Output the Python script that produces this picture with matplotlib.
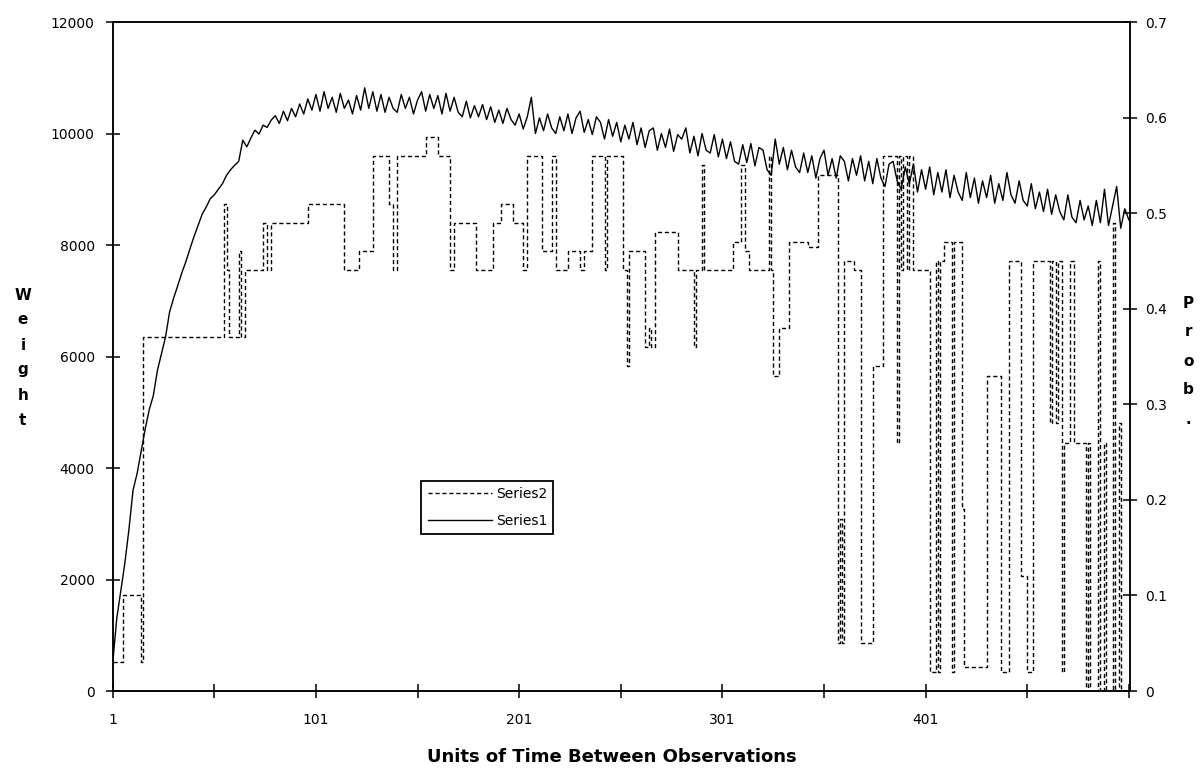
import matplotlib
matplotlib.use("Agg")
import matplotlib.pyplot as plt
import numpy as np

# Series1 (weight), read every 2nd observation: x = 1, 3, 5, ... 501
series1 = [
    500, 1300, 1800, 2300, 2900, 3600, 3900, 4300, 4700, 5050,
    5300, 5750, 6050, 6350, 6800, 7050, 7270, 7500, 7700, 7930,
    8150, 8350, 8550, 8680, 8830, 8900, 9000, 9100, 9250, 9350,
    9430, 9500, 9880, 9760, 9920, 10060, 9990, 10150, 10110, 10240,
    10320, 10180, 10400, 10230, 10450, 10300, 10530, 10350, 10620, 10420,
    10700, 10400, 10750, 10450, 10650, 10380, 10720, 10450, 10600, 10350,
    10680, 10420, 10820, 10450, 10750, 10400, 10700, 10380, 10650, 10450,
    10380, 10700, 10450, 10650, 10350, 10600, 10750, 10400, 10700, 10450,
    10680, 10350, 10720, 10400, 10650, 10380, 10300, 10580, 10280, 10500,
    10300, 10520, 10250, 10480, 10200, 10420, 10180, 10450, 10250, 10150,
    10350, 10080, 10300, 10650, 10000, 10280, 10050, 10350, 10100, 10000,
    10300, 10050, 10350, 10000, 10280, 10400, 10020, 10250, 9980, 10300,
    10200, 9900, 10250, 9950, 10200, 9850, 10150, 9900, 10200, 9800,
    10100, 9750, 10050, 10100, 9700, 10000, 9750, 10080, 9680, 9980,
    9900, 10100, 9650, 9950, 9600, 10000, 9700, 9650, 9980, 9580,
    9900, 9550, 9850, 9500, 9450, 9800, 9480, 9820, 9420, 9750,
    9700, 9350, 9250, 9900, 9450, 9750, 9350, 9700, 9400, 9300,
    9650, 9300, 9600, 9200, 9550, 9700, 9250, 9550, 9200, 9600,
    9500, 9150, 9550, 9250, 9600, 9150, 9500, 9100, 9550, 9200,
    9050, 9450, 9500, 9150, 9000, 9400, 9100, 9450, 8950, 9350,
    9000, 9400, 8900, 9300, 8950, 9350, 8850, 9250, 8950, 8800,
    9300, 8850, 9200, 8750, 9150, 8850, 9250, 8750, 9100, 8800,
    9300, 8900, 8750, 9150, 8800, 8700, 9100, 8650, 8950, 8600,
    9000, 8550, 8900, 8600, 8450, 8900, 8500, 8400, 8800, 8450,
    8700, 8350, 8800, 8400, 9000, 8350, 8700, 9050, 8300, 8650,
    8450,
]
series1_x = np.arange(1, 2 * len(series1), 2)

# Series2 (probability) is a step line: observation where a new level starts, and the level
s2_start = [1, 6, 15, 16, 56, 57, 58, 63, 64, 66, 75, 77, 79, 97, 115, 122, 129, 137, 139, 141,
            155, 161, 167, 169, 180, 188, 192, 198, 203, 205, 212, 217, 219, 225, 231, 233, 237,
            243, 244, 252, 254, 255, 263, 265, 266, 268, 279, 287, 288, 291, 292, 306, 310, 312,
            314, 324, 325, 326, 329, 334, 343, 348, 358, 359, 360, 361, 366, 369, 375, 380, 387,
            388, 389, 390, 392, 393, 395, 403, 406, 407, 408, 410, 414, 415, 419, 420, 431, 438,
            442, 448, 451, 454, 462, 463, 465, 466, 468, 469, 472, 474, 480, 481, 482, 486, 487,
            489, 490, 493, 494, 496, 497]
s2_prob = [0.03, 0.10, 0.03, 0.37, 0.51, 0.44, 0.37, 0.46, 0.37, 0.44, 0.49, 0.44, 0.49, 0.51,
           0.44, 0.46, 0.56, 0.51, 0.44, 0.56, 0.58, 0.56, 0.44, 0.49, 0.44, 0.49, 0.51, 0.49,
           0.44, 0.56, 0.46, 0.56, 0.44, 0.46, 0.44, 0.46, 0.56, 0.44, 0.56, 0.44, 0.34, 0.46,
           0.36, 0.38, 0.36, 0.48, 0.44, 0.36, 0.44, 0.55, 0.44, 0.47, 0.55, 0.46, 0.44, 0.56,
           0.44, 0.33, 0.38, 0.47, 0.465, 0.54, 0.05, 0.18, 0.05, 0.45, 0.44, 0.05, 0.34, 0.56,
           0.26, 0.56, 0.44, 0.56, 0.44, 0.56, 0.44, 0.02, 0.45, 0.02, 0.45, 0.47, 0.02, 0.47,
           0.19, 0.025, 0.33, 0.02, 0.45, 0.12, 0.02, 0.45, 0.28, 0.45, 0.28, 0.45, 0.02, 0.26,
           0.45, 0.26, 0.0, 0.26, 0.0, 0.45, 0.0, 0.26, 0.0, 0.49, 0.0, 0.28, 0.0]
last_obs = 501

x_ticks = list(range(1, 502, 50))
x_labels = [str(t) if (t - 1) % 100 == 0 and t < 500 else "" for t in x_ticks]
w_ticks = list(range(0, 12001, 2000))
p_ticks = [0, 0.1, 0.2, 0.3, 0.4, 0.5, 0.6, 0.7]
p_labels = ["0", "0.1", "0.2", "0.3", "0.4", "0.5", "0.6", "0.7"]

fig = plt.figure(figsize=(12.04, 7.72), dpi=100)
ax = fig.add_axes([0.0936, 0.1049, 0.845, 0.8666])
ax2 = ax.twinx()

line1, = ax.plot(series1_x, series1, color="black", lw=1.0, label="Series1")
step_x = s2_start + [last_obs]
step_y = s2_prob + [s2_prob[-1]]
line2, = ax2.step(step_x, step_y, where="post", color="black", lw=1.0,
                  linestyle=(0, (3, 2)), label="Series2")

ax.set_xlim(1, 501.6)
ax.set_ylim(0, 12000)
ax2.set_ylim(0, 0.7)

ax.set_xticks(x_ticks)
ax.set_xticklabels(x_labels, fontsize=10)
ax.set_yticks(w_ticks)
ax.set_yticklabels([str(t) for t in w_ticks], fontsize=10)
ax2.set_yticks(p_ticks)
ax2.set_yticklabels(p_labels, fontsize=10)

ax.tick_params(axis="x", direction="inout", length=10, width=1.1, pad=11)
ax.tick_params(axis="y", direction="inout", length=10, width=1.1, pad=8)
ax2.tick_params(axis="y", direction="inout", length=10, width=1.1, pad=6)
for a in (ax, ax2):
    for s in a.spines.values():
        s.set_linewidth(1.1)
        s.set_color("black")

leg = ax2.legend([line2, line1], ["Series2", "Series1"], loc="upper left",
                 bbox_to_anchor=(0.350, 0.377), bbox_transform=fig.transFigure,
                 borderaxespad=0, fancybox=False, framealpha=1, edgecolor="black",
                 fontsize=10, handlelength=4.6, handletextpad=0.3, labelspacing=0.9,
                 borderpad=0.45)
leg.get_frame().set_linewidth(1.3)

fig.text(0.508, 0.019, "Units of Time Between Observations", ha="center", va="center",
         fontsize=13, fontweight="bold")

# stacked axis titles, one letter per line
for i, ch in enumerate("Weight"):
    fig.text(0.019, 1 - (295 + i * 25) / 772, ch, ha="center", va="center",
             fontsize=11, fontweight="bold")
for i, ch in enumerate("Prob."):
    fig.text(0.987, 1 - (303 + i * 29) / 772, ch, ha="center", va="center",
             fontsize=11, fontweight="bold")

fig.savefig("out.png", dpi=100)
